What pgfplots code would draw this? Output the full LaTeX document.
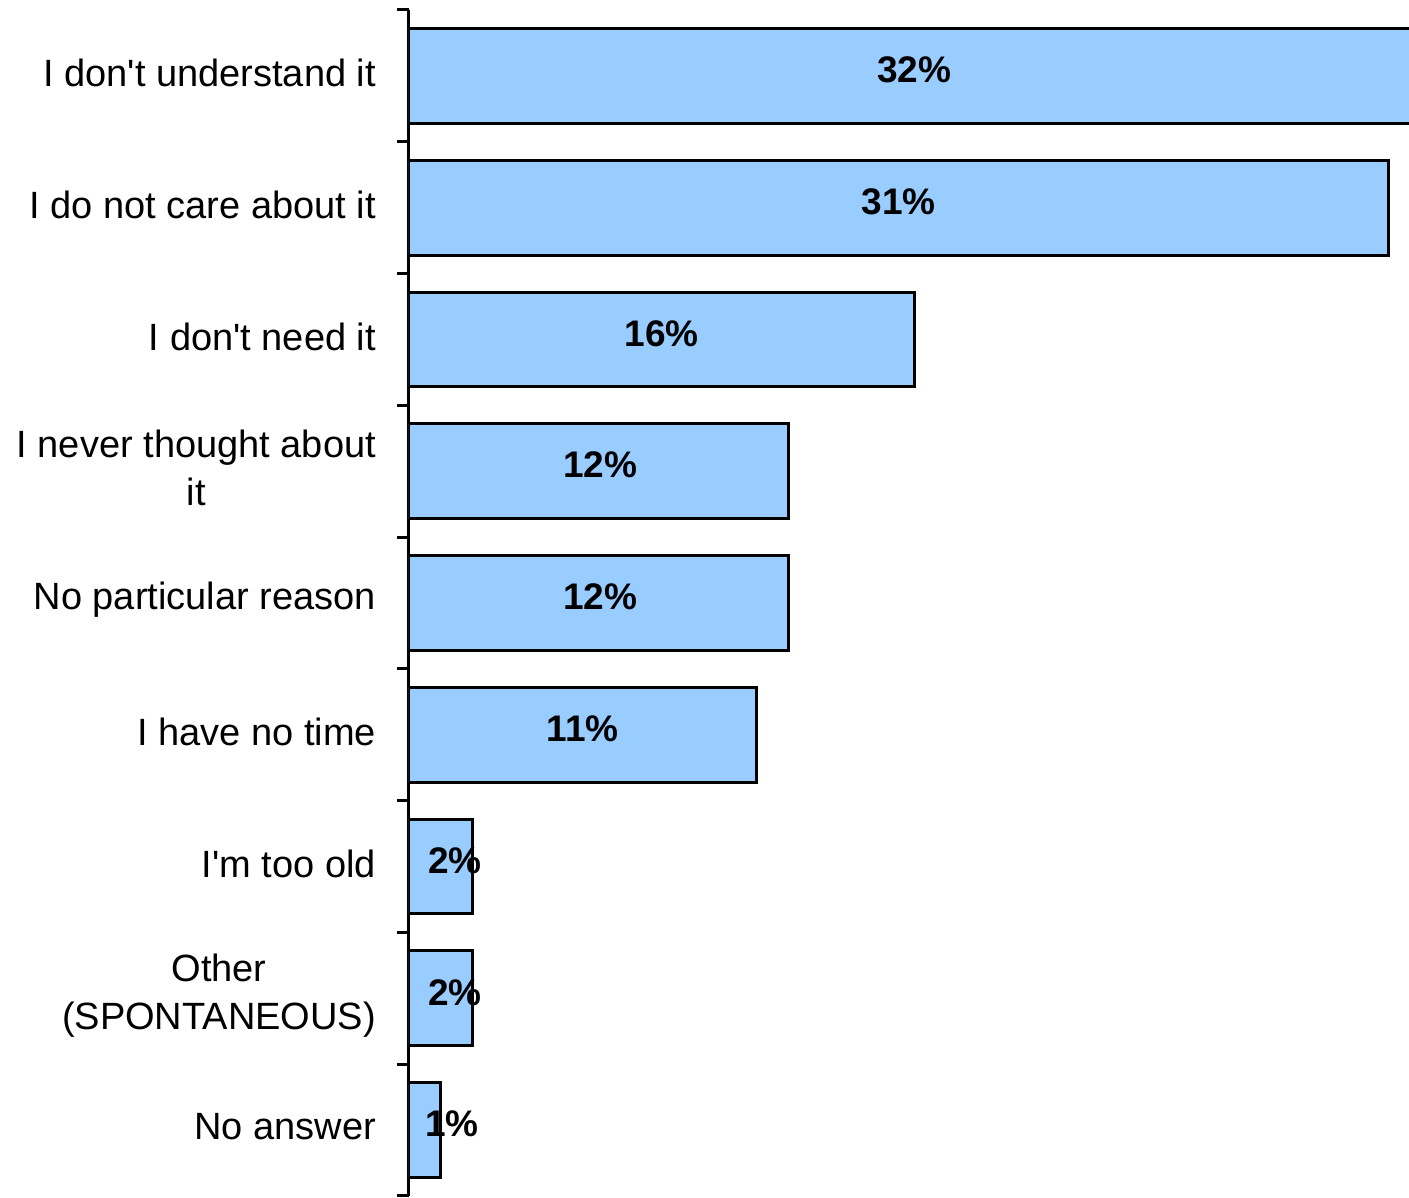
\documentclass[border=0pt]{standalone}
\usepackage{pgfplots}
\pgfplotsset{compat=1.18}
\usepackage{fontspec}
\setmainfont{Liberation Sans}
\definecolor{barblue}{HTML}{99CCFF}

\pgfplotstableread{
y  v   lx    lab
0  32  16.0  32\%
1  31  15.5  31\%
2  16  8.0   16\%
3  12  6.05  12\%
4  12  6.05  12\%
5  11  5.5   11\%
6  2   1.46  2\%
7  2   1.46  2\%
8  1   1.36  1\%
}\reasons

\begin{document}
\begin{tikzpicture}
\begin{axis}[
    scale only axis,
    width=500pt, height=593pt,
    xmin=0, xmax=31.66,
    ymin=-0.5, ymax=8.5,
    y dir=reverse,
    axis x line=none,
    axis y line*=left,
    axis line style={line width=1.5pt},
    ytick={0,...,8},
    yticklabels={I don\textquotesingle t understand it, I do not care about it, I don\textquotesingle t need it,
      {I never thought about\\it}, No particular reason, I have no time,
      I\textquotesingle m too old, {Other\\(SPONTANEOUS)}, No answer},
    yticklabel style={align=center, font=\fontsize{19}{24}\selectfont, xshift=-13pt, yshift=1.5pt},
    major tick length=0pt,
    minor ytick={-0.5,0.5,...,8.5},
    minor tick length=6pt,
    tick align=outside,
    minor tick style={line width=1.5pt, black},
]
\addplot[xbar, bar width=0.72, bar shift=0pt, fill=barblue, draw=black, line width=1.5pt]
  table[x=v, y=y] {\reasons};
\addplot[draw=none, mark=none, nodes near coords, point meta=explicit symbolic,
  nodes near coords style={anchor=center, yshift=3pt, font=\bfseries\fontsize{18.5}{22}\selectfont}]
  table[x=lx, y=y, meta=lab] {\reasons};
\end{axis}
\path ([yshift=5pt]current axis.north east);
\path ([xshift=-204.5pt]current axis.south west);
\end{tikzpicture}
\end{document}
